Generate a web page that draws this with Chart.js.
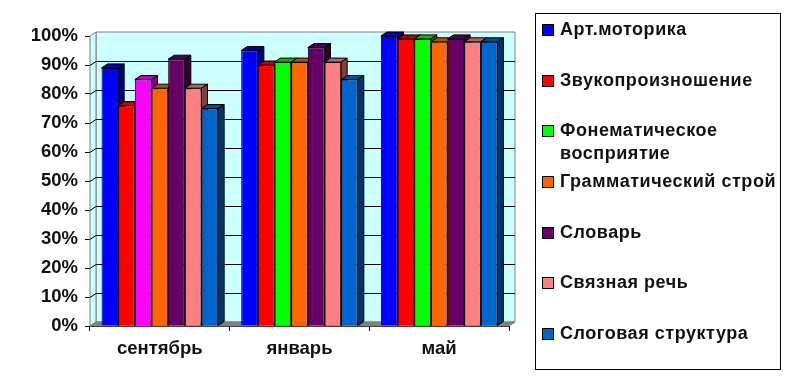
<!DOCTYPE html>
<html lang="ru">
<head>
<meta charset="utf-8">
<title>Диаграмма</title>
<script src="https://cdn.jsdelivr.net/npm/chart.js@4"></script>
<style>
  html, body { margin: 0; padding: 0; background: #fff; }
  #wrap { position: relative; width: 793px; height: 384px; overflow: hidden; }
  #chart { position: absolute; left: 0; top: 0; }
  #legend {
    position: absolute; left: 535px; top: 13px; width: 244px; height: 355px;
    border: 1px solid #000; background: #fff;
    font: bold 18px "Liberation Sans", Arial, sans-serif; color: #111;
  }
  .row { position: absolute; left: 6px; right: 0; height: 50px; display: flex; align-items: flex-start; }
  .swatch { flex: none; width: 10px; height: 10px; margin: 6px 6px 0 0; border: 1px solid #000; }
  .label { line-height: 23px; margin-top: 0; letter-spacing: 0.55px; }
</style>
</head>
<body>
<div id="wrap">
  <canvas id="chart" width="793" height="384"></canvas>
  <div id="legend"></div>
</div>
<script>
const categories = ['сентябрь', 'январь', 'май'];
const seriesNames = ['Арт.моторика', 'Звукопроизношение', 'Фонематическое восприятие', 'Грамматический строй', 'Словарь', 'Связная речь', 'Слоговая структура'];
const artMotor = [89, 95, 100];
const sound = [76, 90, 99];
const phonemic = [85, 91, 99];
const grammar = [82, 91, 98];
const vocabulary = [92, 96, 99];
const speech = [82, 91, 98];
const syllable = [75, 85, 98];
const seriesValues = [artMotor, sound, phonemic, grammar, vocabulary, speech, syllable];
const seriesColors = ['#0000FF', '#FF0000', '#00FF00', '#FF6600', '#660066', '#FF8080', '#0066CC'];
// the september phonemic bar is magenta in the original, the legend stays green
const phonemicColors = ['#FF00FF', '#00FF00', '#00FF00'];

const DEPTH_X = 6;
const DEPTH_Y = 4;
const FONT = '"Liberation Sans", Arial, sans-serif';

function shade(hex, k) {
  const n = parseInt(hex.slice(1), 16);
  const r = Math.round((n >> 16) * k);
  const g = Math.round(((n >> 8) & 255) * k);
  const b = Math.round((n & 255) * k);
  return `rgb(${r},${g},${b})`;
}

function poly(ctx, pts, fill, stroke) {
  ctx.beginPath();
  pts.forEach((p, i) => i ? ctx.lineTo(p[0], p[1]) : ctx.moveTo(p[0], p[1]));
  ctx.closePath();
  ctx.fillStyle = fill;
  ctx.fill();
  if (stroke) {
    ctx.strokeStyle = stroke;
    ctx.lineWidth = 1;
    ctx.stroke();
  }
}

// Back wall, side wall, floor and gridlines
function drawWalls(chart) {
  const ctx = chart.ctx;
  const a = chart.chartArea;
  const y = chart.scales.y;
  ctx.save();
  poly(ctx, [[a.left + DEPTH_X, a.top - DEPTH_Y], [a.right + DEPTH_X, a.top - DEPTH_Y], [a.right + DEPTH_X, a.bottom - DEPTH_Y], [a.left + DEPTH_X, a.bottom - DEPTH_Y]], '#CCFFFF', '#808080');
  poly(ctx, [[a.left, a.top], [a.left + DEPTH_X, a.top - DEPTH_Y], [a.left + DEPTH_X, a.bottom - DEPTH_Y], [a.left, a.bottom]], '#CCFFFF', '#808080');
  ctx.strokeStyle = '#000';
  ctx.lineWidth = 1;
  y.ticks.forEach(t => {
    if (t.value === 0 || t.value === 100) return;
    const py = Math.round(y.getPixelForValue(t.value)) + 0.5;
    ctx.beginPath();
    ctx.moveTo(a.left, py);
    ctx.lineTo(a.left + DEPTH_X, py - DEPTH_Y);
    ctx.lineTo(a.right + DEPTH_X, py - DEPTH_Y);
    ctx.stroke();
  });
  poly(ctx, [[a.left, a.bottom], [a.left + DEPTH_X, a.bottom - DEPTH_Y], [a.right + DEPTH_X, a.bottom - DEPTH_Y], [a.right, a.bottom]], '#808080', '#808080');
  ctx.restore();
}

// Top and side faces of one series
function drawFaces(ctx, meta) {
  const colors = meta.controller.getDataset().backgroundColor;
  ctx.save();
  meta.data.forEach((bar, i) => {
    const p = bar.getProps(['x', 'y', 'base', 'width'], true);
    const l = p.x - p.width / 2;
    const r = p.x + p.width / 2;
    poly(ctx, [[l, p.y], [l + DEPTH_X, p.y - DEPTH_Y], [r + DEPTH_X, p.y - DEPTH_Y], [r, p.y]], shade(colors[i], 0.75), '#000');
    poly(ctx, [[r, p.y], [r + DEPTH_X, p.y - DEPTH_Y], [r + DEPTH_X, p.base - DEPTH_Y], [r, p.base]], shade(colors[i], 0.5), '#000');
  });
  ctx.restore();
}

// Chart.js paints the last dataset first, the 3d look needs left bars first
const wallPlugin = {
  id: 'wall',
  beforeDatasetsDraw(chart) {
    drawWalls(chart);
    chart.getSortedVisibleDatasetMetas().forEach(meta => {
      drawFaces(chart.ctx, meta);
      meta.controller.draw();
    });
  },
  beforeDatasetDraw() {
    return false;
  }
};

new Chart(document.getElementById('chart'), {
  type: 'bar',
  data: {
    labels: categories,
    datasets: seriesNames.map((name, i) => ({
      label: name,
      data: seriesValues[i],
      backgroundColor: i === 2 ? phonemicColors : categories.map(() => seriesColors[i]),
      borderColor: '#000',
      borderWidth: 1,
      barPercentage: 1,
      categoryPercentage: 0.835
    }))
  },
  options: {
    responsive: false,
    animation: false,
    layout: { padding: { left: 0, top: 36, right: 284, bottom: 0 } },
    plugins: { legend: { display: false }, tooltip: { enabled: false } },
    scales: {
      x: {
        afterFit(scale) { scale.height = 58; },
        grid: { drawOnChartArea: false, drawTicks: true, tickLength: 5, color: '#000' },
        border: { color: '#000' },
        ticks: { color: '#111', padding: 7, maxRotation: 0, font: { family: FONT, size: 18.5, weight: 'bold' } }
      },
      y: {
        min: 0,
        max: 100,
        afterFit(scale) { scale.width = 90; },
        grid: { drawOnChartArea: false, drawTicks: true, tickLength: 5, color: '#000' },
        border: { color: '#000' },
        ticks: {
          stepSize: 10,
          color: '#111',
          padding: 7,
          callback: v => v + '%',
          font: { family: FONT, size: 18.5, weight: 'bold' }
        }
      }
    }
  },
  plugins: [wallPlugin]
});

// Legend box
const legend = document.getElementById('legend');
seriesNames.forEach((name, i) => {
  const row = document.createElement('div');
  row.className = 'row';
  row.style.top = (4 + i * 50.67) + 'px';
  const swatch = document.createElement('span');
  swatch.className = 'swatch';
  swatch.style.background = seriesColors[i];
  const label = document.createElement('span');
  label.className = 'label';
  label.textContent = name;
  row.append(swatch, label);
  legend.append(row);
});
</script>
</body>
</html>
